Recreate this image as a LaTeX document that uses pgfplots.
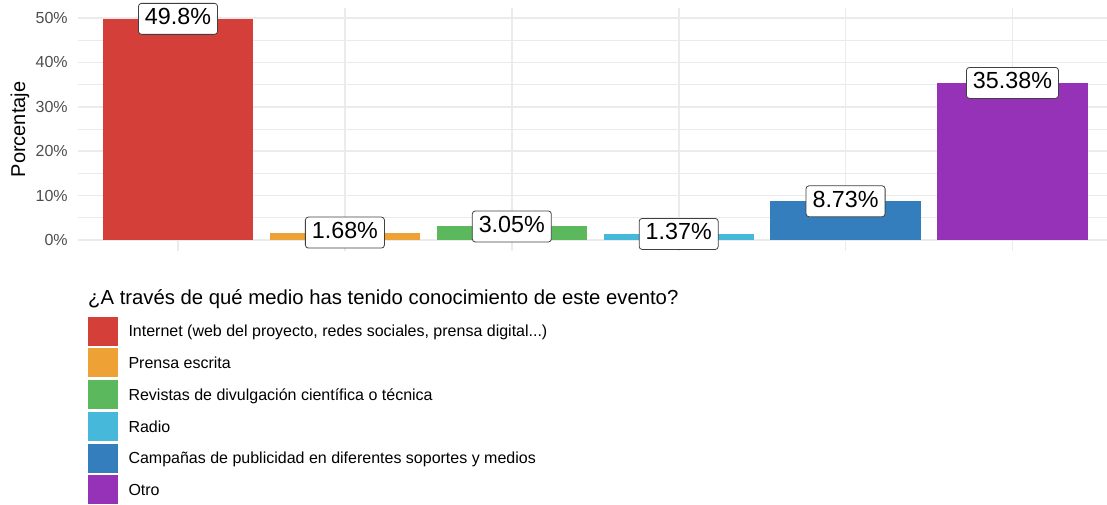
\documentclass[border=0pt]{standalone}
\usepackage{fontspec}
\setmainfont{Liberation Sans}
\usepackage{pgfplots}
\pgfplotsset{compat=1.18}
\definecolor{cR}{HTML}{D43F3A}
\definecolor{cO}{HTML}{EEA236}
\definecolor{cG}{HTML}{5CB85C}
\definecolor{cC}{HTML}{46B8DA}
\definecolor{cB}{HTML}{357EBD}
\definecolor{cP}{HTML}{9632B8}
\definecolor{gridc}{HTML}{EBEBEB}
\definecolor{tickc}{HTML}{4D4D4D}
\begin{document}
\begin{tikzpicture}
\path[use as bounding box] (0,0) rectangle (1107pt,504pt);
\begin{axis}[
  at={(77.9pt,252.9pt)}, anchor=south west,
  scale only axis, width=1034.7pt, height=243.3pt,
  xmin=0.4, xmax=6.6, ymin=-2.49, ymax=52.29,
  clip=false,
  axis line style={draw=none},
  major tick length=0pt, minor tick length=0pt,
  xtick={1,2,3,4,5,6}, xticklabels={},
  ytick={0,10,20,30,40,50},
  minor ytick={5,15,25,35,45},
  grid=both,
  major grid style={draw=gridc, line width=1.7pt},
  minor grid style={draw=gridc, line width=0.9pt},
  /pgf/number format/assume math mode=true,
  yticklabel={\pgfmathprintnumber{\tick}\%},
  yticklabel style={font=\fontsize{16}{19}\selectfont, text=tickc, inner sep=0pt, anchor=east, xshift=-10pt},
  ylabel={Porcentaje},
  ylabel style={at={(axis description cs:-0.056,0.5)}, anchor=center, font=\fontsize{20}{24}\selectfont},
  legend style={at={(axis description cs:0.00976,-0.2696)}, anchor=north west, draw=none, fill=none,
    inner sep=0pt, outer sep=0pt, row sep=2.7pt, column sep=11pt,
    nodes={inner sep=0pt, text height=11.5pt, text depth=0pt},
    font=\fontsize{16}{19}\selectfont},
  legend cell align=left,
  legend image code/.code={\fill[#1] (0pt,-14.5pt) rectangle (29.5pt,14.5pt);},
  every node near coord/.append style={anchor=center, draw=black!75, line width=0.8pt, fill=white,
    rounded corners=3pt, inner xsep=6.5pt, inner ysep=5pt, text height=16.5pt, text depth=4.5pt,
    font=\fontsize{23.3}{28}\selectfont, text=black},
  point meta=explicit symbolic,
]
\addplot[ybar, bar width=0.9, bar shift=0pt, fill=cR, draw=none, nodes near coords] coordinates {(1,49.8) [49.8\%]};
\addlegendentry{Internet (web del proyecto, redes sociales, prensa digital...)}
\addplot[ybar, bar width=0.9, bar shift=0pt, fill=cO, draw=none, nodes near coords] coordinates {(2,1.68) [1.68\%]};
\addlegendentry{Prensa escrita}
\addplot[ybar, bar width=0.9, bar shift=0pt, fill=cG, draw=none, nodes near coords] coordinates {(3,3.05) [3.05\%]};
\addlegendentry{Revistas de divulgación científica o técnica}
\addplot[ybar, bar width=0.9, bar shift=0pt, fill=cC, draw=none, nodes near coords] coordinates {(4,1.37) [1.37\%]};
\addlegendentry{Radio}
\addplot[ybar, bar width=0.9, bar shift=0pt, fill=cB, draw=none, nodes near coords] coordinates {(5,8.73) [8.73\%]};
\addlegendentry{Campañas de publicidad en diferentes soportes y medios}
\addplot[ybar, bar width=0.9, bar shift=0pt, fill=cP, draw=none, nodes near coords] coordinates {(6,35.38) [35.38\%]};
\addlegendentry{Otro}
\end{axis}
\node[anchor=base west, inner sep=0pt, font=\fontsize{20.3}{24}\selectfont] at (88pt,200pt) {¿A través de qué medio has tenido conocimiento de este evento?};
\end{tikzpicture}
\end{document}
